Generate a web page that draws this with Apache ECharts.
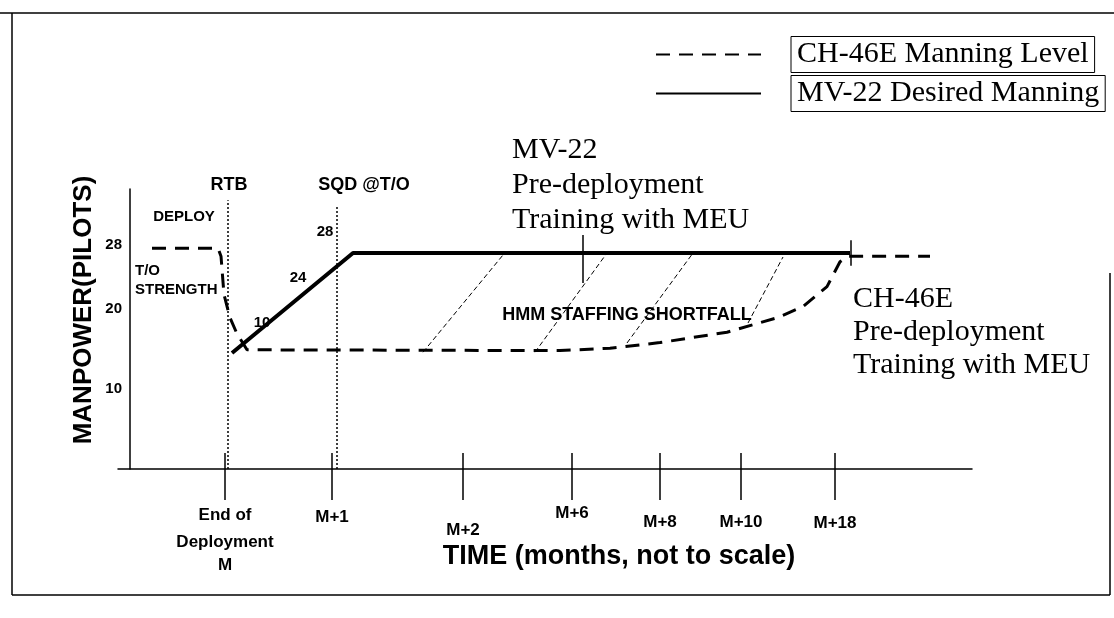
<!DOCTYPE html>
<html>
<head>
<meta charset="utf-8">
<script src="https://cdn.jsdelivr.net/npm/echarts@6/dist/echarts.min.js"></script>
<style>
html,body{margin:0;padding:0;background:#fff;}
#chart{width:1114px;height:618px;}
</style>
</head>
<body>
<div id="chart"></div>
<script>
// ---- data (schematic units; time axis is "not to scale") ----
const xTickValues = [9.5, 20.2, 33.3, 44.2, 53.0, 61.1, 70.5];
const xTickLabels = ['End of\nDeployment\nM', 'M+1', 'M+2', 'M+6', 'M+8', 'M+10', 'M+18'];
const yTickValues = [10, 20, 28];
const yTickLabels = ['10', '20', '28'];

const ch46eX = [2.2, 8.8, 9.1, 9.4, 10.0, 10.7, 11.7, 43.0, 48.0, 53.0, 59.7, 64.7, 67.3, 69.7, 71.0, 71.8, 80.0];
const ch46eY = [27.6, 27.6, 26.6, 21.8, 18.9, 16.9, 14.9, 14.8, 15.1, 15.8, 17.1, 18.9, 20.3, 22.8, 25.9, 26.6, 26.6];

const mv22X = [10.2, 22.3, 72.0];
const mv22Y = [14.5, 27.0, 27.0];

const milestoneNames = ['RTB', 'SQD @T/O'];
const milestoneX = [9.8, 20.7];
const milestoneTop = [33.6, 33.0];

const hatchStartX = [29.3, 40.5, 49.7, 61.8];
const hatchStartY = [14.6, 14.6, 15.75, 18.25];
const hatchEndX = [37.3, 47.7, 56.3, 65.3];
const hatchEndY = [26.75, 27.0, 27.0, 26.5];

const markerX = [45.3, 72.1];
const markerTop = [29.25, 28.6];
const markerBottom = [23.25, 25.4];

// ---- styles ----
const SANS = '"Liberation Sans", Arial, sans-serif';
const SERIF = '"Liberation Serif", "Times New Roman", serif';
// line height of each tick label's first line (moves the label down by half of the extra)
const labelLineHeight = [31, 34, 60, 26, 44, 44, 46];

const series = [];
series.push({
  name: 'CH-46E Manning Level', type: 'line', symbol: 'none', silent: true,
  data: ch46eX.map((x, i) => [x, ch46eY[i]]),
  lineStyle: { color: '#000', width: 3, type: [14, 9] }, itemStyle: { color: '#000' }
});
series.push({
  name: 'MV-22 Desired Manning', type: 'line', symbol: 'none', silent: true,
  data: mv22X.map((x, i) => [x, mv22Y[i]]),
  lineStyle: { color: '#000', width: 4, type: 'solid' }, itemStyle: { color: '#000' }
});
milestoneX.forEach((x, i) => series.push({
  name: milestoneNames[i], type: 'line', symbol: 'none', silent: true,
  data: [[x, 0], [x, milestoneTop[i]]],
  lineStyle: { color: '#000', width: 1.5, type: [2, 2] }
}));
hatchStartX.forEach((x, i) => series.push({
  name: 'shortfall' + i, type: 'line', symbol: 'none', silent: true,
  data: [[x, hatchStartY[i]], [hatchEndX[i], hatchEndY[i]]],
  lineStyle: { color: '#000', width: 1, type: [5, 3] }
}));
markerX.forEach((x, i) => series.push({
  name: 'marker' + i, type: 'line', symbol: 'none', silent: true,
  data: [[x, markerBottom[i]], [x, markerTop[i]]],
  lineStyle: { color: '#000', width: 1.5 }
}));

const xRich = {};
labelLineHeight.forEach((h, i) => {
  xRich['r' + i] = { fontFamily: SANS, fontWeight: 'bold', fontSize: 17, color: '#000', lineHeight: h };
});
xRich.e = { fontFamily: SANS, fontWeight: 'bold', fontSize: 17, color: '#000', lineHeight: 23 };

function t(text, x, y, size, extra) {
  return {
    type: 'text', silent: true,
    style: Object.assign({ text: text, x: x, y: y, fill: '#000', font: 'bold ' + size + 'px ' + SANS,
      align: 'center', verticalAlign: 'middle' }, extra || {})
  };
}
function ln(x1, y1, x2, y2) {
  return { type: 'line', silent: true, shape: { x1, y1, x2, y2 }, style: { stroke: '#000', lineWidth: 1.5 } };
}

const option = {
  backgroundColor: '#fff',
  animation: false,
  grid: { left: 118, right: 142, top: 189, bottom: 149 },
  legend: {
    data: ['CH-46E Manning Level', 'MV-22 Desired Manning'],
    orient: 'vertical', left: 650, top: 31, itemWidth: 105, itemHeight: 14, itemGap: 2,
    selectedMode: false,
    itemStyle: { opacity: 0, borderWidth: 0 },
    formatter: name => '{g|}{b|' + name + '}',
    textStyle: {
      color: '#000',
      rich: {
        g: { width: 25 },
        b: { fontFamily: SERIF, fontSize: 30, lineHeight: 34, color: '#000', padding: [3, 6, 3, 6], borderColor: '#000', borderWidth: 1 }
      }
    }
  },
  xAxis: [{
    type: 'value', min: -1.2, max: 84.2,
    name: 'TIME (months, not to scale)', nameLocation: 'middle', nameGap: 74, nameMoveOverlap: false,
    nameTextStyle: { fontFamily: SANS, fontWeight: 'bold', fontSize: 27, color: '#000', padding: [0, 0, 0, 148] },
    axisLine: { onZero: false, lineStyle: { color: '#000', width: 1.5 } },
    axisTick: { show: true, customValues: xTickValues, length: 31, lineStyle: { color: '#000', width: 1.5 } },
    axisLabel: {
      customValues: xTickValues, margin: 31, rich: xRich,
      formatter: v => {
        const i = xTickValues.indexOf(v);
        if (i < 0) return '';
        const lines = xTickLabels[i].split('\n');
        return lines.map((s, k) => (k === 0 ? '{r' + i + '|' : '{e|') + s + '}').join('\n');
      }
    },
    splitLine: { show: false }
  }, {
    type: 'value', min: -1.2, max: 84.2, position: 'bottom',
    axisLine: { show: false },
    axisTick: { show: true, inside: true, customValues: xTickValues, length: 16, lineStyle: { color: '#000', width: 1.5 } },
    axisLabel: { show: false }, splitLine: { show: false }
  }],
  yAxis: {
    type: 'value', min: 0, max: 35, offset: -12,
    name: 'MANPOWER(PILOTS)', nameLocation: 'middle', nameGap: 33, nameMoveOverlap: false,
    nameTextStyle: { fontFamily: SANS, fontWeight: 'bold', fontSize: 26, color: '#000', padding: [0, 0, 0, 38] },
    axisLine: { onZero: false, lineStyle: { color: '#000', width: 1.5 } },
    axisTick: { show: false },
    axisLabel: {
      customValues: yTickValues, margin: 8, color: '#000', fontFamily: SANS, fontWeight: 'bold', fontSize: 15,
      formatter: v => { const i = yTickValues.indexOf(v); return i < 0 ? '' : yTickLabels[i]; }
    },
    splitLine: { show: false }
  },
  graphic: [
    ln(0, 13, 1114, 13), ln(12, 13, 12, 595), ln(12, 595, 1110, 595), ln(1110, 273, 1110, 595),
    t('RTB', 229, 185, 18),
    t('SQD @T/O', 364, 185, 18),
    t('DEPLOY', 184, 217, 15),
    t('28', 325, 232, 15),
    t('T/O\nSTRENGTH', 135, 280, 15, { align: 'left', lineHeight: 19 }),
    t('24', 298, 278, 15),
    t('10', 262, 323, 15),
    t('HMM STAFFING SHORTFALL', 627, 315, 18),
    t('MV-22\nPre-deployment\nTraining with MEU', 512, 185, 30, { align: 'left', lineHeight: 35, font: '30px ' + SERIF }),
    t('CH-46E\nPre-deployment\nTraining with MEU', 853, 332, 30, { align: 'left', lineHeight: 33, font: '30px ' + SERIF })
  ],
  series: series
};

const chart = echarts.init(document.getElementById('chart'), null, { renderer: 'canvas' });
chart.setOption(option);
</script>
</body>
</html>
